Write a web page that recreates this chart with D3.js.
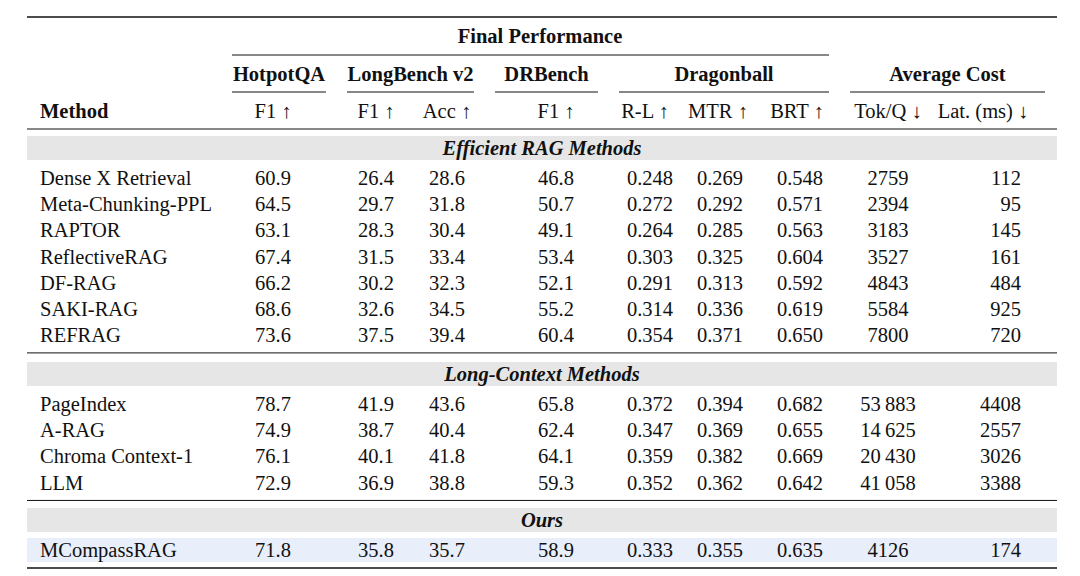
<!DOCTYPE html>
<html><head><meta charset="utf-8">
<script src="https://cdn.jsdelivr.net/npm/d3@7"></script>
<style>body{margin:0;background:#fff}text{font-family:"Liberation Serif","Times New Roman",serif;fill:#111}</style>
</head><body><svg></svg>
<script>
const sections = ["Efficient RAG Methods", "Long-Context Methods", "Ours"];
const methods = [
  ["Dense X Retrieval", "Meta-Chunking-PPL", "RAPTOR", "ReflectiveRAG", "DF-RAG", "SAKI-RAG", "REFRAG"],
  ["PageIndex", "A-RAG", "Chroma Context-1", "LLM"],
  ["MCompassRAG"]
];
const values = [
  [
    ["60.9","26.4","28.6","46.8","0.248","0.269","0.548","2759","112"],
    ["64.5","29.7","31.8","50.7","0.272","0.292","0.571","2394","95"],
    ["63.1","28.3","30.4","49.1","0.264","0.285","0.563","3183","145"],
    ["67.4","31.5","33.4","53.4","0.303","0.325","0.604","3527","161"],
    ["66.2","30.2","32.3","52.1","0.291","0.313","0.592","4843","484"],
    ["68.6","32.6","34.5","55.2","0.314","0.336","0.619","5584","925"],
    ["73.6","37.5","39.4","60.4","0.354","0.371","0.650","7800","720"]
  ],
  [
    ["78.7","41.9","43.6","65.8","0.372","0.394","0.682","53\u2009883","4408"],
    ["74.9","38.7","40.4","62.4","0.347","0.369","0.655","14\u2009625","2557"],
    ["76.1","40.1","41.8","64.1","0.359","0.382","0.669","20\u2009430","3026"],
    ["72.9","36.9","38.8","59.3","0.352","0.362","0.642","41\u2009058","3388"]
  ],
  [
    ["71.8","35.8","35.7","58.9","0.333","0.355","0.635","4126","174"]
  ]
];
const subHeaders = ["F1 \u2191","F1 \u2191","Acc \u2191","F1 \u2191","R-L \u2191","MTR \u2191","BRT \u2191","Tok/Q \u2193","Lat. (ms) \u2193"];
const groups = [
  {name: "HotpotQA", from: 0, to: 0},
  {name: "LongBench v2", from: 1, to: 2},
  {name: "DRBench", from: 3, to: 3},
  {name: "Dragonball", from: 4, to: 6},
  {name: "Average Cost", from: 7, to: 8}
];

const svg = d3.select("svg").attr("width", 1080).attr("height", 576);
const fs = 20.5;
const left = 27, right = 1057;
const colX = [273, 376, 447, 556, 650, 720, 800, 888, 1021];
const hdrX = [273, 376, 447, 556, 645, 718, 797, 888, 983];
const spanL = [232, 347, 495, 619, 850];
const spanR = [326, 474, 598, 829, 1045];

function rule(y, w, x1 = left, x2 = right) {
  svg.append("line").attr("x1", x1).attr("x2", x2).attr("y1", y).attr("y2", y)
    .attr("stroke", "#111").attr("stroke-width", w);
}
function txt(x, y, s, anchor, weight, style) {
  svg.append("text").attr("x", x).attr("y", y).attr("dy", "0.35em")
    .attr("font-size", fs).attr("text-anchor", anchor || "middle")
    .attr("font-weight", weight || "normal").attr("font-style", style || "normal").text(s);
}

rule(17, 1.6);
txt(540, 36, "Final Performance", "middle", "bold");
rule(55, 1, 232, 829);
groups.forEach((g, i) => {
  txt((spanL[i] + spanR[i]) / 2, 74, g.name, "middle", "bold");
  rule(92, 1, spanL[i], spanR[i]);
});
txt(40, 111, "Method", "start", "bold");
subHeaders.forEach((h, i) => txt(hdrX[i], 111, h));
rule(129, 1);

const rowH = 26.15;
const bandTops = [136, 362, 508];
sections.forEach((s, si) => {
  const bt = bandTops[si];
  svg.append("rect").attr("x", left).attr("y", bt).attr("width", right - left).attr("height", 24).attr("fill", "#e6e6e6");
  txt(542, bt + 12, s, "middle", "bold", "italic");
  methods[si].forEach((m, ri) => {
    const y = bt + 42 + ri * rowH;
    if (si === 2) {
      svg.append("rect").attr("x", left).attr("y", y - 12).attr("width", right - left).attr("height", 24).attr("fill", "#e8eefa");
    }
    txt(40, y, m, "start");
    values[si][ri].forEach((v, ci) => txt(colX[ci], y, v, ci === 8 ? "end" : "middle"));
  });
  if (si < 2) rule(bt + 42 + (methods[si].length - 1) * rowH + 18, 1);
});
rule(568, 1.6);
</script></body></html>
